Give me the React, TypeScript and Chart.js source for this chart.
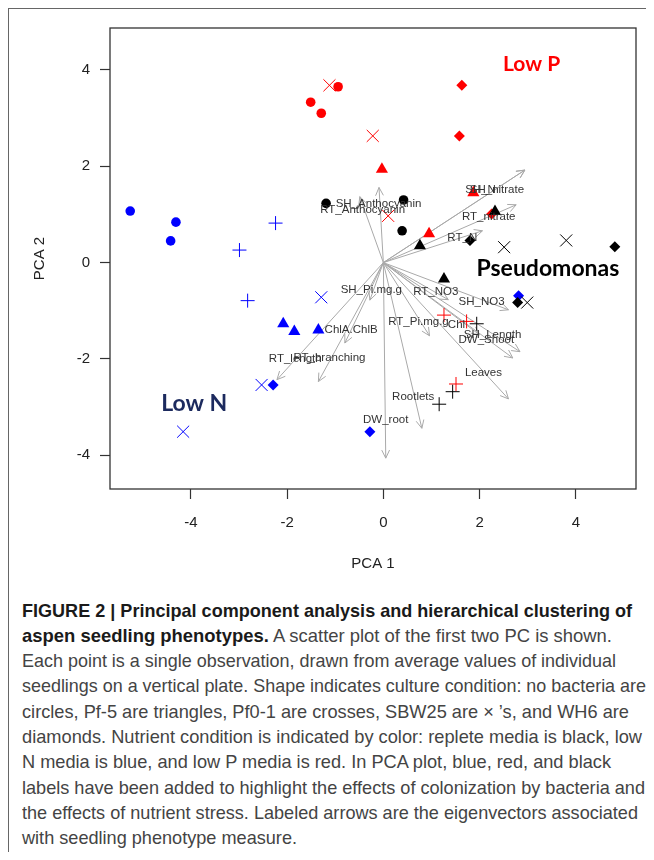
import React, { useEffect, useRef } from "react";
import { Chart, registerables } from "chart.js";
Chart.register(...registerables);

// ---- PCA scores [PC1, PC2] by nutrient condition and culture condition ----
const repleteNone = [[-1.19, 1.23], [0.42, 1.30], [0.39, 0.66]];
const repletePf5 = [[0.76, 0.35], [1.26, -0.34], [2.32, 1.06]];
const repletePf01 = [[1.94, -1.27], [1.44, -2.68], [1.16, -2.94]];
const repleteSBW25 = [[2.51, 0.32], [3.80, 0.46], [2.99, -0.83]];
const repleteWH6 = [[1.80, 0.46], [4.81, 0.33], [2.79, -0.83]];

const lowNNone = [[-5.26, 1.07], [-4.31, 0.84], [-4.42, 0.45]];
const lowNPf5 = [[-2.08, -1.27], [-1.85, -1.43], [-1.35, -1.40]];
const lowNPf01 = [[-2.24, 0.82], [-2.99, 0.26], [-2.82, -0.79]];
const lowNSBW25 = [[-1.29, -0.72], [-2.53, -2.54], [-4.16, -3.51]];
const lowNWH6 = [[-2.29, -2.54], [-0.28, -3.51], [2.81, -0.69]];

const lowPNone = [[-0.94, 3.65], [-1.51, 3.33], [-1.29, 3.10]];
const lowPPf5 = [[-0.03, 1.94], [1.87, 1.45], [0.95, 0.60]];
const lowPPf01 = [[1.26, -1.09], [1.73, -1.22], [1.51, -2.52]];
const lowPSBW25 = [[-1.12, 3.68], [-0.22, 2.63], [0.10, 0.97]];
const lowPWH6 = [[1.63, 3.68], [1.58, 2.63], [2.25, 1.01]];

// ---- eigenvectors (arrow tips) ----
const vecNames = [
  "SH_Anthocyanin", "RT_Anthocyanin", "SH_nitrate", "SH_N", "RT_nitrate", "RT_N",
  "SH_Pi.mg.g", "RT_NO3", "SH_NO3", "RT_Pi.mg.g", "Chl", "SH_Length", "DW_Shoot",
  "Leaves", "Rootlets", "DW_root", "ChlA.ChlB", "RT_length", "RT_branching",
];
const vecX = [-0.09, -0.49, 2.94, 2.94, 2.76, 2.06, -0.28, 1.35, 2.60, 0.96, 2.0, 2.84, 2.69, 2.60, 0.80, 0.05, -0.80, -2.21, -1.35];
const vecY = [1.56, 1.37, 1.92, 1.92, 1.20, 0.66, -0.78, -0.77, -0.98, -1.52, -1.5, -1.85, -1.98, -2.83, -3.44, -4.06, -1.67, -2.43, -2.47];
const labelX = [-0.10, -0.43, 2.36, 2.02, 2.19, 1.64, -0.25, 1.09, 2.04, 0.73, 1.52, 2.27, 2.14, 2.08, 0.62, 0.05, -0.67, -1.83, -1.12];
const labelY = [1.23, 1.09, 1.52, 1.52, 0.94, 0.51, -0.57, -0.61, -0.81, -1.22, -1.29, -1.49, -1.60, -2.29, -2.78, -3.26, -1.40, -2.00, -1.98];

// ---- annotation labels ----
const noteText = ["Low P", "Low N", "Pseudomonas"];
const noteX = [3.08, -3.93, 3.42];
const noteY = [4.12, -2.93, -0.12];
const noteColor = ["#ff0000", "#1c2a5e", "#000000"];

const xTicks = [-4, -2, 0, 2, 4];
const yTicks = [-4, -2, 0, 2, 4];

const captionLines: [string, string][] = [
  ["FIGURE 2 | Principal component analysis and hierarchical clustering of", ""],
  ["aspen seedling phenotypes.", " A scatter plot of the first two PC is shown."],
  ["", "Each point is a single observation, drawn from average values of individual"],
  ["", "seedlings on a vertical plate. Shape indicates culture condition: no bacteria are"],
  ["", "circles, Pf-5 are triangles, Pf0-1 are crosses, SBW25 are \u00d7 \u2019s, and WH6 are"],
  ["", "diamonds. Nutrient condition is indicated by color: replete media is black, low"],
  ["", "N media is blue, and low P media is red. In PCA plot, blue, red, and black"],
  ["", "labels have been added to highlight the effects of colonization by bacteria and"],
  ["", "the effects of nutrient stress. Labeled arrows are the eigenvectors associated"],
  ["", "with seedling phenotype measure."],
];
const captionRight = [632, 612, 616, 646, 629, 642, 611, 645, 638, 297];

const toPts = (a: number[][]) => a.map(([x, y]) => ({ x, y }));

const RED = "#ff0000";
const BLUE = "#0000ff";
const BLACK = "#000000";

function ds(data: number[][], color: string, style: string) {
  const filled = style === "circle" || style === "triangle" || style === "rectRot";
  const radius = style === "circle" ? 4.8 : style === "triangle" ? 7 : style === "rectRot" ? 5.5 : style === "cross" ? 7 : 8.5;
  return {
    data: toPts(data),
    pointStyle: style,
    pointRadius: radius,
    pointBackgroundColor: filled ? color : "transparent",
    pointBorderColor: color,
    pointBorderWidth: filled ? 0 : 1,
    showLine: false,
  };
}

const biplotPlugin = {
  id: "biplot",
  beforeDatasetsDraw(chart: any) {
    const { ctx, scales } = chart;
    const x = scales.x, y = scales.y;
    const x0 = x.getPixelForValue(0), y0 = y.getPixelForValue(0);
    ctx.save();
    ctx.strokeStyle = "#a9a9a9";
    ctx.lineWidth = 1;
    for (let i = 0; i < vecX.length; i++) {
      const x1 = x.getPixelForValue(vecX[i]);
      const y1 = y.getPixelForValue(vecY[i]);
      ctx.beginPath();
      ctx.moveTo(x0, y0);
      ctx.lineTo(x1, y1);
      const a = Math.atan2(y1 - y0, x1 - x0);
      const L = 9, sp = Math.PI / 7;
      ctx.moveTo(x1 - L * Math.cos(a - sp), y1 - L * Math.sin(a - sp));
      ctx.lineTo(x1, y1);
      ctx.lineTo(x1 - L * Math.cos(a + sp), y1 - L * Math.sin(a + sp));
      ctx.stroke();
    }
    ctx.restore();
  },
  afterDatasetsDraw(chart: any) {
    const { ctx, scales, chartArea } = chart;
    const x = scales.x, y = scales.y;
    ctx.save();
    ctx.fillStyle = "#333333";
    ctx.font = "11.5px 'Liberation Sans', Arial, sans-serif";
    ctx.textAlign = "center";
    ctx.textBaseline = "middle";
    for (let i = 0; i < vecNames.length; i++) {
      ctx.fillText(vecNames[i], x.getPixelForValue(labelX[i]), y.getPixelForValue(labelY[i]));
    }
    for (let i = 0; i < noteText.length; i++) {
      ctx.fillStyle = noteColor[i];
      ctx.font = i === 0 ? "bold 21px Lato, 'Open Sans', sans-serif" : "bold 23px Lato, 'Open Sans', sans-serif";
      ctx.fillText(noteText[i], x.getPixelForValue(noteX[i]), y.getPixelForValue(noteY[i]));
    }
    ctx.strokeStyle = "#333";
    ctx.lineWidth = 1.3;
    ctx.strokeRect(chartArea.left, chartArea.top, chartArea.right - chartArea.left, chartArea.bottom - chartArea.top);
    ctx.restore();
  },
};

function PcaChart() {
  const ref = useRef<HTMLCanvasElement | null>(null);
  useEffect(() => {
    if (!ref.current) return;
    const axisFont = { family: "'Liberation Sans', Arial, sans-serif", size: 15 };
    const chart = new Chart(ref.current, {
      type: "scatter",
      data: {
        datasets: [
          ds(repleteNone, BLACK, "circle"),
          ds(repletePf5, BLACK, "triangle"),
          ds(repletePf01, BLACK, "cross"),
          ds(repleteSBW25, BLACK, "crossRot"),
          ds(repleteWH6, BLACK, "rectRot"),
          ds(lowNNone, BLUE, "circle"),
          ds(lowNPf5, BLUE, "triangle"),
          ds(lowNPf01, BLUE, "cross"),
          ds(lowNSBW25, BLUE, "crossRot"),
          ds(lowNWH6, BLUE, "rectRot"),
          ds(lowPNone, RED, "circle"),
          ds(lowPPf5, RED, "triangle"),
          ds(lowPPf01, RED, "cross"),
          ds(lowPSBW25, RED, "crossRot"),
          ds(lowPWH6, RED, "rectRot"),
        ] as any,
      },
      options: {
        animation: false,
        responsive: false,
        maintainAspectRatio: false,
        layout: { padding: { top: 20, right: 18, left: 0, bottom: 0 } },
        plugins: { legend: { display: false }, tooltip: { enabled: false } },
        scales: {
          x: {
            type: "linear",
            min: -5.68,
            max: 5.25,
            afterBuildTicks: (s: any) => { s.ticks = xTicks.map((v) => ({ value: v })); },
            afterFit: (s: any) => { s.height = 91; },
            grid: { drawOnChartArea: false, drawTicks: true, tickLength: 10, tickColor: "#333", tickWidth: 1.2 },
            border: { display: false },
            ticks: { font: axisFont, color: "#222", padding: 15, maxRotation: 0, autoSkip: false },
            title: { display: true, text: "PCA 1", font: axisFont, color: "#222", padding: { top: 0, bottom: 7 } },
          },
          y: {
            type: "linear",
            min: -4.7,
            max: 4.87,
            afterBuildTicks: (s: any) => { s.ticks = yTicks.map((v) => ({ value: v })); },
            afterFit: (s: any) => { s.width = 102; },
            grid: { drawOnChartArea: false, drawTicks: true, tickLength: 10, tickColor: "#333", tickWidth: 1.2 },
            border: { display: false },
            ticks: { font: axisFont, color: "#222", padding: 10, autoSkip: false },
            title: { display: true, text: "PCA 2", font: axisFont, color: "#222", padding: { top: 23, bottom: 0 } },
          },
        },
      } as any,
      plugins: [biplotPlugin],
    });
    return () => chart.destroy();
  }, []);
  return <canvas ref={ref} width={646} height={572} style={{ position: "absolute", left: 0, top: 0, width: 646, height: 572 }} />;
}

function Caption() {
  const refs = useRef<(HTMLDivElement | null)[]>([]);
  useEffect(() => {
    refs.current.forEach((el, i) => {
      if (!el) return;
      el.style.transform = "none";
      const w = el.getBoundingClientRect().width;
      const target = captionRight[i] - 22;
      el.style.transform = `scaleX(${target / w})`;
    });
  }, []);
  return (
    <>
      {captionLines.map(([b, r], i) => (
        <div
          key={i}
          ref={(el) => { refs.current[i] = el; }}
          style={{
            position: "absolute",
            left: 14,
            top: 589.5 + i * 25.3,
            height: 25,
            lineHeight: "25px",
            whiteSpace: "nowrap",
            fontFamily: "'Liberation Sans', Arial, sans-serif",
            fontSize: 18.5,
            color: "#444",
            transformOrigin: "0 50%",
            display: "inline-block",
          }}
        >
          {b ? <b style={{ color: "#1a1a1a" }}>{b}</b> : null}
          {r}
        </div>
      ))}
    </>
  );
}

export default function App() {
  useEffect(() => {
    document.documentElement.style.overflow = "hidden";
    document.body.style.overflow = "hidden";
  }, []);
  return (
    <div style={{ position: "relative", width: 646, height: 844 }}>
      <div
        style={{
          position: "absolute",
          left: -0.5,
          top: 0,
          width: 646,
          height: 852,
          borderLeft: "1.5px solid #666",
          borderTop: "1.5px solid #666",
          boxSizing: "border-box",
        }}
      />
      <PcaChart />
      <Caption />
    </div>
  );
}
